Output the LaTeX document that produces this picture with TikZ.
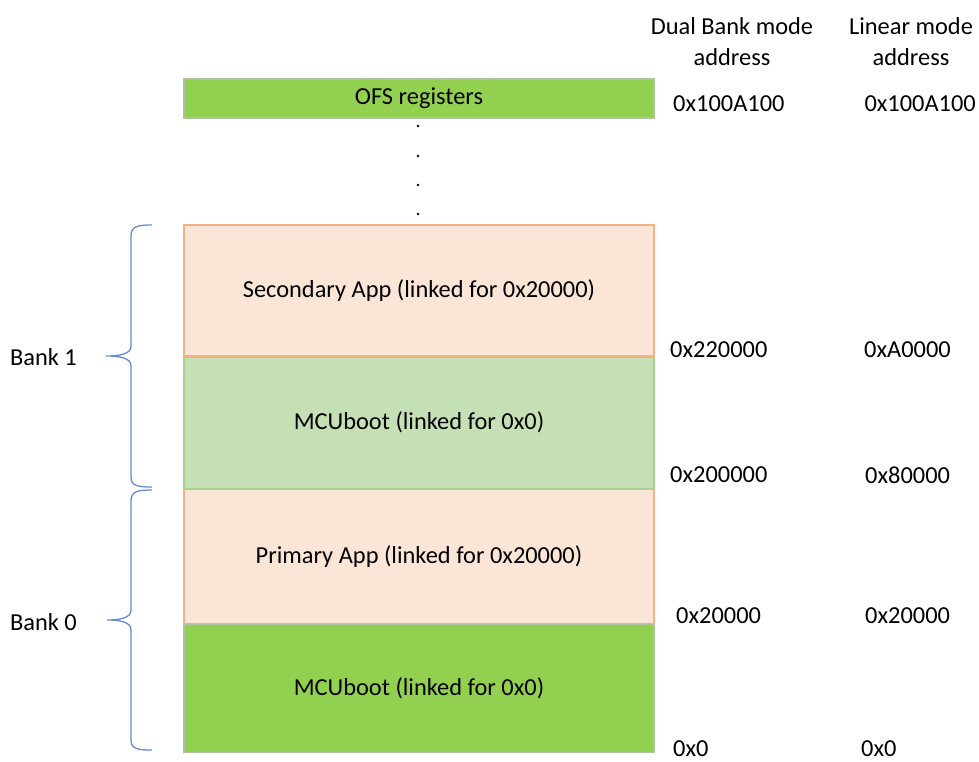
\documentclass[tikz,border=0pt]{standalone}
\usepackage{fontspec}
\setmainfont{Carlito}
\usetikzlibrary{positioning}
\definecolor{ofsGreen}{RGB}{146, 208, 80}
\definecolor{ofsLine}{RGB}{175, 195, 160}
\definecolor{appPeach}{RGB}{251, 229, 214}
\definecolor{appLine}{RGB}{244, 177, 131}
\definecolor{bootGreen}{RGB}{197, 224, 180}
\definecolor{bootLine}{RGB}{169, 209, 142}
\definecolor{braceBlue}{RGB}{100, 140, 210}
\tikzset{
  memBox/.style={
    draw,
    line width=1.2pt,
    minimum width=470pt,
    inner sep=0pt,
    font=\fontsize{24.4}{28}\selectfont
  },
  hdrText/.style={
    align=center,
    inner sep=0pt,
    font=\fontsize{24.4}{31}\selectfont
  },
  addrText/.style={
    anchor=west,
    inner sep=0pt,
    font=\fontsize{24.4}{28}\selectfont
  },
  bankBrace/.style={
    draw=braceBlue,
    line width=1.3pt
  }
}

\begin{document}
\begin{tikzpicture}[x=1pt, y=-1pt, node distance=0pt]
  \useasboundingbox (0,0) rectangle (979,761);
  % Memory column
  \node[memBox, fill=ofsGreen, draw=ofsLine, minimum height=39pt] (ofs) at (419,98.5) {OFS registers};
  \node[memBox, fill=appPeach, draw=appLine, minimum height=131pt] (sec) at (419,290.5) {Secondary App (linked for 0x20000)};
  \node[memBox, fill=bootGreen, draw=bootLine, minimum height=131pt, below=of sec] (bootB) {MCUboot (linked for 0x0)};
  \node[memBox, fill=appPeach, draw=appLine, minimum height=134pt, below=of bootB] (pri) {Primary App (linked for 0x20000)};
  \node[memBox, fill=ofsGreen, draw=ofsLine, minimum height=128pt, below=of pri] (bootA) {MCUboot (linked for 0x0)};
  % Gap dots
  \foreach \y in {126,156,185,214}
    \fill (418,\y) circle (1.4);

  % Column headers
  \node[hdrText] (dualHdr) at (732,42) {Dual Bank mode\\address};
  \node[hdrText] (linHdr) at (911,42) {Linear mode\\address};

  % Addresses
  \node[addrText] (d0) at (673,104) {0x100A100};
  \node[addrText, anchor=east] (l0) at (976,104) {0x100A100};
  \node[addrText] (d1) at (670,350) {0x220000};
  \node[addrText] (l1) at (864,350) {0xA0000};
  \node[addrText] (d2) at (670,475) {0x200000};
  \node[addrText] (l2) at (865,475) {0x80000};
  \node[addrText] (d3) at (676,616) {0x20000};
  \node[addrText] (l3) at (865,616) {0x20000};
  \node[addrText] (d4) at (673,749) {0x0};
  \node[addrText] (l4) at (861,749) {0x0};

  % Banks
  \node[addrText, anchor=east] (bank1) at (77,357) {Bank 1};
  \node[addrText, anchor=east] (bank0) at (77,622) {Bank 0};
  \coordinate (b1top) at (152,225);
  \coordinate (b1tip) at (106,356);
  \coordinate (b1bot) at (152,487);
  \coordinate (b0top) at (152,490);
  \coordinate (b0tip) at (107,620);
  \coordinate (b0bot) at (152,750);
  \draw[bankBrace] (b1top) .. controls (138,225) and (131,226) .. (131,236) -- (131,346)
    .. controls (131,354) and (120,356) .. (b1tip) .. controls (120,356) and (131,358) .. (131,366)
    -- (131,477) .. controls (131,486) and (138,487) .. (b1bot);
  \draw[bankBrace] (b0top) .. controls (138,490) and (131,491) .. (131,501) -- (131,610)
    .. controls (131,618) and (120,620) .. (b0tip) .. controls (120,620) and (131,622) .. (131,630)
    -- (131,740) .. controls (131,749) and (138,750) .. (b0bot);
\end{tikzpicture}
\end{document}
